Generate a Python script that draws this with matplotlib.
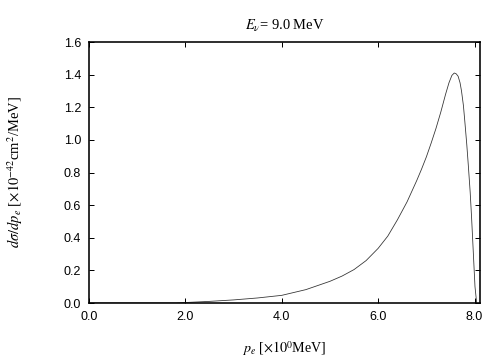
import matplotlib
matplotlib.use("Agg")
import matplotlib.pyplot as plt

# electron momentum p_e [MeV] and dsigma/dp_e [1e-42 cm^2/MeV]
p_e = [0.0, 1.0, 1.8, 2.0, 2.5, 3.0, 3.5, 4.0, 4.5, 5.0, 5.25, 5.5, 5.75, 6.0,
       6.2, 6.4, 6.6, 6.8, 6.9, 7.0, 7.1, 7.2, 7.3, 7.4, 7.47, 7.53, 7.58,
       7.62, 7.66, 7.70, 7.73, 7.77, 7.80, 7.84, 7.87, 7.91, 7.94, 7.98,
       8.01, 8.045]
dsig = [0.0, 0.0, 0.0, 0.003, 0.010, 0.019, 0.031, 0.047, 0.082, 0.133, 0.165,
        0.205, 0.26, 0.335, 0.41, 0.51, 0.62, 0.75, 0.82, 0.895, 0.98, 1.07,
        1.17, 1.28, 1.35, 1.395, 1.41, 1.405, 1.39, 1.35, 1.30, 1.21, 1.11,
        0.97, 0.85, 0.68, 0.52, 0.28, 0.10, 0.0]

xticks = [0.0, 2.0, 4.0, 6.0, 8.0]
yticks = [0.0, 0.2, 0.4, 0.6, 0.8, 1.0, 1.2, 1.4, 1.6]

plt.rcParams['font.family'] = ['Liberation Sans', 'DejaVu Sans']
plt.rcParams['mathtext.fontset'] = 'stix'

fig = plt.figure(figsize=(7, 5), dpi=72)
ax = fig.add_axes([0.1766, 0.1583, 0.7754, 0.725])

ax.plot(p_e, dsig, color='#333333', linewidth=0.8)

ax.set_xlim(0, 8.11)
ax.set_ylim(0, 1.6)
ax.set_xticks(xticks)
ax.set_xticklabels(['%.1f' % v for v in xticks])
ax.set_yticks(yticks)
ax.set_yticklabels(['%.1f' % v for v in yticks])
ax.tick_params(direction='in', length=5, width=1, top=True, right=True,
               labelsize=12.5, pad=8)
for s in ax.spines.values():
    s.set_linewidth(1.6)

ax.set_title(r'$E_{\nu}$= 9.0 MeV', family='Liberation Serif', fontsize=14.5, pad=12)
ax.set_xlabel(r'$p_e$ [$\times10^{0}$MeV]', family='Liberation Serif', fontsize=14)
ax.set_ylabel(r'$d\sigma/dp_e$ [$\times10^{-42}$cm$^2$/MeV]', family='Liberation Serif',
              fontsize=14.5)
ax.xaxis.set_label_coords(0.5, -0.14)
ax.yaxis.set_label_coords(-0.165, 0.5)

fig.savefig('out.png', dpi=72)
